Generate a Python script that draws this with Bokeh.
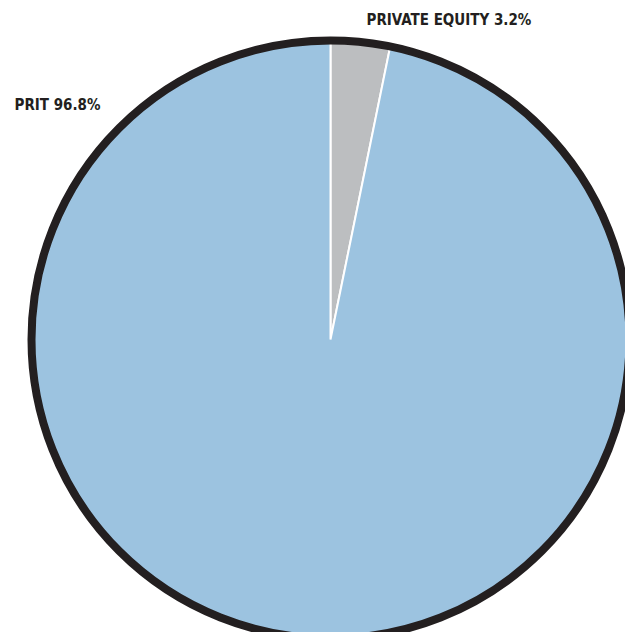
import math
from bokeh.plotting import figure
from bokeh.models import Range1d, ColumnDataSource
from bokeh.core.properties import value
from bokeh.embed import file_html
from bokeh.resources import INLINE

# Data
categories = ["PRIVATE EQUITY", "PRIT"]
shares = [3.2, 96.8]
colors = ["#bcbec0", "#9cc3e0"]
label_texts = ["PRIVATE EQUITY 3.2%", "PRIT 96.8%"]

total = sum(shares)
cum = [0.0]
for s in shares:
    cum.append(cum[-1] + s)
start_angles = [math.pi / 2 - 2 * math.pi * cum[i + 1] / total for i in range(len(shares))]
end_angles = [math.pi / 2 - 2 * math.pi * cum[i] / total for i in range(len(shares))]

src = ColumnDataSource(dict(cat=categories, val=shares, color=colors,
                            start=start_angles, end=end_angles))

W, H = 625, 632
p = figure(width=W, height=H, output_backend="svg", toolbar_location=None,
           x_range=Range1d(0, 625), y_range=Range1d(8, 640), min_border=0,
           match_aspect=False)
p.axis.visible = False
p.grid.visible = False
p.outline_line_color = None
p.background_fill_color = "white"
p.border_fill_color = "white"

cx, cy, r = 330, 301, 299
p.wedge(x=cx, y=cy, radius=r, start_angle="start", end_angle="end",
        fill_color="color", line_color="white", line_width=2, source=src)
p.circle(x=[cx], y=[cy], radius=r, fill_color=None, line_color="#231f20", line_width=8)

lsrc = ColumnDataSource(dict(x=[366, 14], y=[621, 536], t=label_texts))
p.text(x="x", y="y", text="t", source=lsrc,
       text_font=value("DejaVu Sans Condensed, Liberation Sans Narrow, Roboto, sans-serif"),
       text_font_style="bold", text_font_size="15px", text_color="#231f20",
       text_baseline="alphabetic", text_align="left")

open("out.html", "w").write(file_html(p, INLINE))
